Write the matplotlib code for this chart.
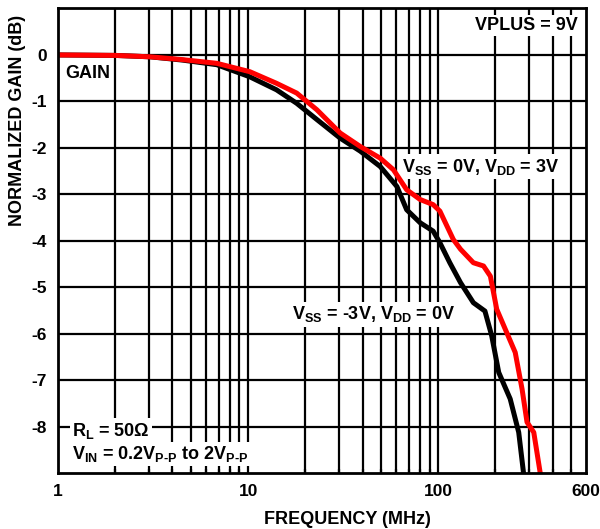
import numpy as np
import matplotlib
matplotlib.use("Agg")
import matplotlib.pyplot as plt
from matplotlib.ticker import LogLocator

plt.rcParams['font.family'] = ['Liberation Sans', 'DejaVu Sans']
plt.rcParams['font.weight'] = 'bold'
plt.rcParams['mathtext.fontset'] = 'custom'
plt.rcParams['mathtext.rm'] = 'Liberation Sans:bold'
plt.rcParams['mathtext.bf'] = 'Liberation Sans:bold'
plt.rcParams['mathtext.it'] = 'Liberation Sans:bold'
plt.rcParams['mathtext.default'] = 'bf'

# red: VSS = 0V, VDD = 3V
freq_red = [1, 2, 3.05, 4.5, 6.84, 10.2, 14.1, 18.0, 23.0, 30.5, 38.9, 49.5, 58.1,
            68.2, 80.3, 94, 102, 120, 131, 153, 173, 188, 203, 229, 254, 276, 293,
            318, 344]
gain_red = [0, -0.01, -0.04, -0.1, -0.18, -0.36, -0.61, -0.82, -1.18, -1.68, -1.97,
            -2.22, -2.47, -2.90, -3.11, -3.22, -3.36, -3.97, -4.18, -4.47, -4.54,
            -4.76, -5.47, -5.97, -6.40, -7.19, -7.90, -8.12, -9.0]
# black: VSS = -3V, VDD = 0V
freq_blk = [1, 2, 3.05, 4.5, 6.84, 10.2, 14.1, 18.0, 23.0, 30.5, 38.9, 49.5, 60.6,
            68.2, 80.3, 94, 102, 115, 131, 153, 176, 191, 208, 239, 265, 281]
gain_blk = [0, -0.01, -0.04, -0.11, -0.21, -0.47, -0.75, -1.04, -1.39, -1.79, -2.07,
            -2.40, -2.83, -3.33, -3.61, -3.79, -4.04, -4.47, -4.90, -5.33, -5.51,
            -6.04, -6.83, -7.40, -8.12, -9.0]

x_ticks = [1, 10, 100, 600]
y_ticks = [0, -1, -2, -3, -4, -5, -6, -7, -8]

fig = plt.figure(figsize=(6.0, 5.29), dpi=100)
ax = fig.add_axes([0.0967, 0.1053, 0.8803, 0.8787])
ax.set_xscale('log')
ax.set_xlim(1, 600)
ax.set_ylim(-9, 1)
ax.set_axisbelow(False)

# grid
for d in [1, 10, 100]:
    for m in range(1, 10):
        v = d * m
        if 1 < v < 600:
            ax.axvline(v, color='black', lw=1.6, zorder=1)
for v in range(-8, 1):
    ax.axhline(v, color='black', lw=1.6, zorder=1)

ax.plot(freq_blk, gain_blk, color='black', lw=3.6, zorder=5, solid_joinstyle='round')
ax.plot(freq_red, gain_red, color='#ff0000', lw=3.6, zorder=6, solid_joinstyle='round')

ax.set_xticks(x_ticks)
ax.set_xticklabels([str(t) for t in x_ticks])
ax.xaxis.set_minor_locator(LogLocator(base=10, subs=np.arange(2, 10)))
ax.xaxis.set_minor_formatter(plt.NullFormatter())
ax.set_yticks(y_ticks)
ax.set_yticklabels([str(t) for t in y_ticks])
ax.tick_params(axis='both', which='major', length=0, labelsize=12.5, pad=8)
ax.tick_params(axis='x', which='minor', direction='in', length=3, width=1.6)
for s in ax.spines.values():
    s.set_linewidth(2)
    s.set_zorder(7)

fig.text(347 / 600, 1 - 519 / 529, 'FREQUENCY (MHz)', fontsize=13, fontweight='bold',
         ha='center', va='center')
fig.text(18 / 600, 1 - 120 / 529, 'NORMALIZED GAIN (dB)', fontsize=13, fontweight='bold',
         ha='center', va='center', rotation=90)

box = dict(facecolor='white', edgecolor='none', pad=1.5)
ax.text(1.09, -0.39, 'GAIN', fontsize=13, fontweight='bold', va='center', ha='left', zorder=2)
ax.text(539, 0.64, 'VPLUS = 9V', fontsize=13, fontweight='bold', va='center', ha='right',
        zorder=2, bbox=box)
ax.text(64.6, -2.51, r'V$_{SS}$ = 0V, V$_{DD}$ = 3V', fontsize=13, va='baseline',
        ha='left', zorder=2, bbox=box)
ax.text(17.1, -5.69, r'V$_{SS}$ = -3V, V$_{DD}$ = 0V', fontsize=13, va='baseline',
        ha='left', zorder=2, bbox=box)
ax.text(1.185, -8.19, r'R$_{L}$ = 50Ω', fontsize=13, va='baseline', ha='left',
        zorder=2, bbox=box)
ax.text(1.185, -8.69, r'V$_{IN}$ = 0.2V$_{P\text{-}P}$ to 2V$_{P\text{-}P}$', fontsize=13,
        va='baseline', ha='left', zorder=2, bbox=box)

fig.savefig('out.png', dpi=100)
